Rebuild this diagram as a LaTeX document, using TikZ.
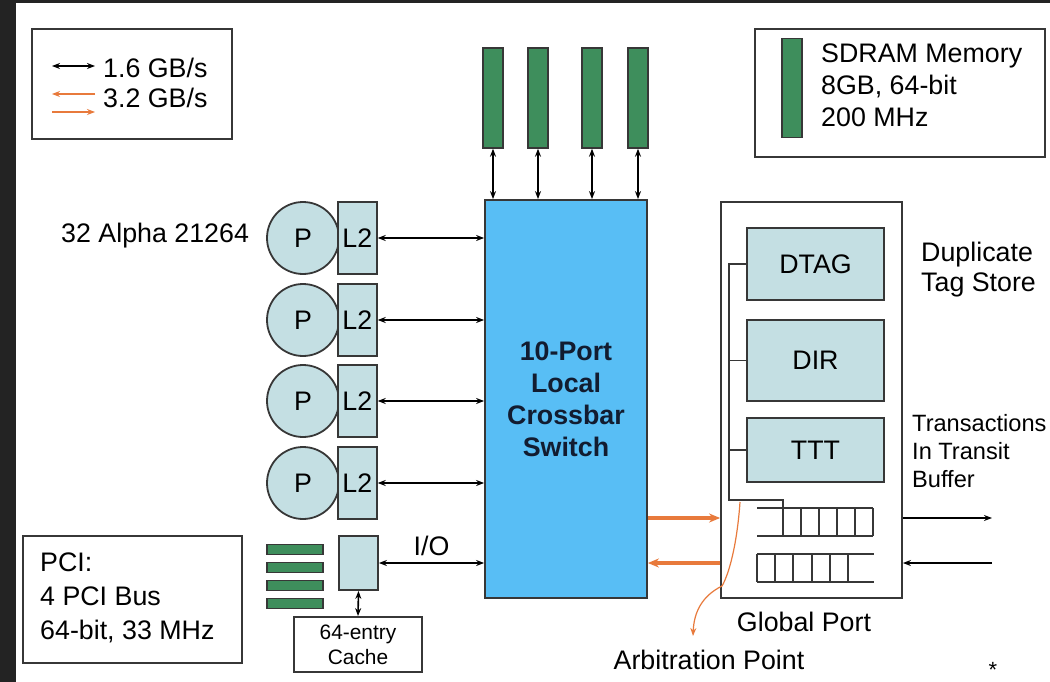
\documentclass[tikz,border=0pt]{standalone}
\usepackage{fontspec}
\setmainfont{Liberation Sans}
\definecolor{xbarblue}{RGB}{88, 190, 245}
\definecolor{xbartext}{RGB}{18, 28, 48}
\definecolor{cachegrey}{RGB}{196, 223, 227}
\definecolor{dimmgreen}{RGB}{62, 142, 92}
\definecolor{busorange}{RGB}{232, 122, 60}
\definecolor{framedark}{RGB}{35, 35, 35}
\definecolor{edgegrey}{RGB}{55, 55, 55}
\usepackage{tikz}
\usetikzlibrary{arrows.meta, positioning}

\begin{document}
\begin{tikzpicture}[x=1pt, y=-1pt,
    >={Stealth[length=8pt, width=6pt]},
    txt/.style={inner sep=0pt, font={\fontsize{26.8}{32}\selectfont}},
    edge/.style={draw=edgegrey, line width=1.8pt},
    lbox/.style={edge, fill=cachegrey, inner sep=0pt},
    dimm/.style={draw=edgegrey, line width=1.4pt, fill=dimmgreen, inner sep=0pt},
    link/.style={line width=1.6pt},
    wide/.style={busorange, line width=3.5pt, -{Stealth[length=11pt, width=9pt]}},
    slim/.style={edgegrey, line width=1.8pt}]
        \useasboundingbox (0,0) rectangle (1050,682);
        \fill[framedark] (0,0) rectangle (1050,682);
        \fill[white] (16,3) rectangle (1050,682);

        % speed key
        \node[edge, minimum width=200pt, minimum height=110pt] (speedkey) at (132,84) {};
        \coordinate (keya1) at (52,66);  \coordinate (keya2) at (95,66);
        \coordinate (keyb1) at (52,94);  \coordinate (keyb2) at (95,94);
        \coordinate (keyc1) at (52,112); \coordinate (keyc2) at (95,112);
        \draw[link, <->] (keya1) -- (keya2);
        \draw[busorange, line width=2pt, ->] (keyb2) -- (keyb1);
        \draw[busorange, line width=2pt, ->] (keyc1) -- (keyc2);
        \node[txt, anchor=west] (slowlbl) at (103,68) {1.6 GB/s};
        \node[txt, anchor=west] (fastlbl) at (103,98) {3.2 GB/s};

        % processors
        \node[txt, anchor=west] (cpulbl) at (61,236) {32 Alpha 21264};
        \foreach \i/\y in {1/238, 2/320, 3/401, 4/483} {
          \node[edge, circle, fill=cachegrey, minimum size=72pt, txt] (cpu\i) at (303,\y) {P};
          \node[lbox, txt, minimum width=39pt, minimum height=72pt,
            right=-3pt of cpu\i] (ltwo\i) {L2};
        }

        % crossbar
        \node[edge, fill=xbarblue, minimum width=162pt, minimum height=398pt,
          align=center, text=xbartext,
          font={\fontsize{26.8}{32}\selectfont\bfseries}] (xbar) at (566,399)
          {10-Port\\Local\\Crossbar\\Switch};
        \foreach \i in {1,...,4}
          \draw[link, <->] (ltwo\i.east) -- (ltwo\i.east -| xbar.west);

        % memory
        \foreach \i/\x in {1/493, 2/538, 3/592, 4/638} {
          \node[dimm, minimum width=20pt, minimum height=100pt] (mem\i) at (\x,98) {};
          \draw[link, <->] (mem\i.south) -- (mem\i.south |- xbar.north);
        }
        \node[edge, minimum width=290pt, minimum height=128pt] (memkey) at (900,93) {};
        \node[dimm, minimum width=20pt, minimum height=99pt] (keydimm) at (792,88) {};
        \node[txt, anchor=west, align=left] (memlbl) at (821,85)
          {SDRAM Memory\\8GB, 64-bit\\200 MHz};

        % global port
        \node[edge, minimum width=181pt, minimum height=396pt] (gport) at (811.5,400) {};
        \node[lbox, txt, minimum width=137pt, minimum height=72pt] (dtag) at (815.5,264) {DTAG};
        \node[lbox, txt, minimum width=137pt, minimum height=81pt] (dir) at (815.5,360.5) {DIR};
        \node[lbox, txt, minimum width=137pt, minimum height=64pt] (ttt) at (815.5,450) {TTT};
        \coordinate (bustop) at (729,264);
        \coordinate (busbot) at (729,500);
        \coordinate (busdrop) at (783,500);
        \draw[slim] (dtag.west) -- (bustop) -- (busbot) -- (busdrop) -- (783,508);
        \draw[slim] (dir.west) -- (dir.west -| bustop);
        \draw[slim] (ttt.west) -- (ttt.west -| bustop);
        \draw[slim] (757,508) -- (873,508) (757,536) -- (873,536);
        \foreach \x in {783,801,819,837,855,873}
          \draw[slim] (\x,508) -- (\x,536);
        \draw[slim] (757,554) -- (874,554) (757,582) -- (874,582);
        \foreach \x in {757,775,793,812,830,848}
          \draw[slim] (\x,554) -- (\x,582);

        \coordinate (txout) at (992,518);
        \coordinate (txin) at (992,563);
        \draw[link, ->] (gport.east |- txout) -- (txout);
        \draw[link, ->] (txin) -- (gport.east |- txin);
        \draw[wide] (xbar.east |- txout) -- (gport.west |- txout);
        \draw[wide] (gport.west |- txin) -- (xbar.east |- txin);

        \node[txt, anchor=west, align=left, font={\fontsize{26.8}{30}\selectfont}] (dtslbl)
          at (921,270) {Duplicate\\Tag Store};
        \node[txt, anchor=west, align=left, font={\fontsize{23.6}{28}\selectfont}] (ttblbl)
          at (912,451) {Transactions\\In Transit\\Buffer};
        \node[txt] (gplbl) at (804,622) {Global Port};
        \node[txt] (arblbl) at (709,660) {Arbitration Point};
        \coordinate (arbfrom) at (740,502);
        \coordinate (arbtip) at (693,636);
        \draw[busorange, line width=1.2pt, ->] (arbfrom)
          .. controls (737,545) and (729,574) .. (722,586)
          .. controls (702,596) and (694,612) .. (arbtip);
        \node[txt, font={\fontsize{22}{26}\selectfont}] (star) at (993,670) {*};

        % i/o
        \node[lbox, minimum width=39pt, minimum height=54pt] (iobox) at (358.5,563) {};
        \draw[link, <->] (iobox.east) -- (iobox.east -| xbar.west)
          node[midway, above=6pt, txt] (iolbl) {I/O};
        \node[edge, inner sep=0pt, minimum width=128pt, minimum height=55pt, align=center,
          font={\fontsize{20.9}{25}\selectfont}] (cache) at (358,644.5) {64-entry\\Cache};
        \draw[link, <->] (iobox.south) -- (cache.north);
        \foreach \k in {0,...,3}
          \node[dimm, minimum width=56pt, minimum height=9.5pt] (pcibus\k) at (295,549.5+18*\k) {};
        \node[edge, minimum width=219pt, minimum height=127pt] (pcikey) at (132.5,599.5) {};
        \node[txt, anchor=west, align=left, font={\fontsize{26.8}{34}\selectfont}] (pcilbl)
          at (40,598) {PCI:\\4 PCI Bus\\64-bit, 33 MHz};
      \end{tikzpicture}
\end{document}
